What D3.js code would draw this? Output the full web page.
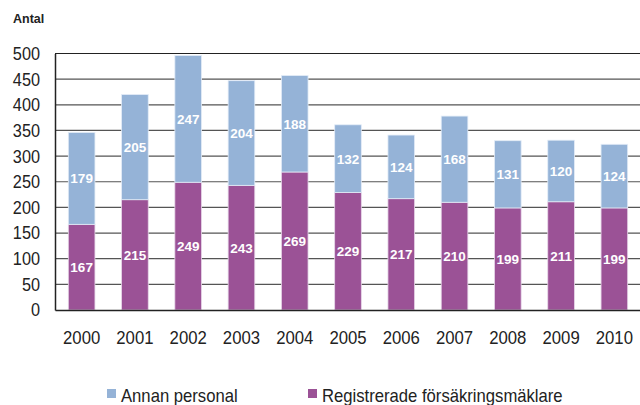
<!DOCTYPE html>
<html><head><meta charset="utf-8">
<script src="https://cdn.jsdelivr.net/npm/d3@7"></script>
<style>body{margin:0;background:#fff}svg{display:block}</style>
</head><body>
<svg id="c" width="640" height="405"></svg>
<script>
const years = ["2000","2001","2002","2003","2004","2005","2006","2007","2008","2009","2010"];
const registrerade = [167,215,249,243,269,229,217,210,199,211,199];
const annan = [179,205,247,204,188,132,124,168,131,120,124];
const yTicks = [0,50,100,150,200,250,300,350,400,450,500];
const seriesNames = ["Annan personal","Registrerade försäkringsmäklare"];
const colors = {annan:"#95b3d7", reg:"#9b5296"};
const FONT = "'Liberation Sans', Arial, sans-serif";

const svg = d3.select("#c");
const m = {l:55};
const x = d3.scaleBand().domain(years).range([m.l, 641]).paddingInner(0.5).paddingOuter(0.25);
const y = d3.scaleLinear().domain([0,500]).range([310, 53.5]);

function squeeze(sel, f){
  sel.each(function(){
    const w = this.getComputedTextLength();
    d3.select(this).attr("textLength", w*f).attr("lengthAdjust","spacingAndGlyphs");
  });
}

// gridlines
svg.append("g").selectAll("line").data(yTicks.filter(d=>d>0)).join("line")
  .attr("x1", m.l).attr("x2", 640).attr("y1", d=>y(d)).attr("y2", d=>y(d))
  .attr("stroke", d=>d===500?"#222":"#555").attr("stroke-width",1.2);

const data = years.map((yr,i)=>({yr, reg:registrerade[i], an:annan[i]}));
const bw = x.bandwidth();
const g = svg.append("g");
g.selectAll("rect.reg").data(data).join("rect").attr("class","reg")
  .attr("x", d=>x(d.yr)).attr("width", bw)
  .attr("y", d=>y(d.reg)).attr("height", d=>y(0)-y(d.reg))
  .attr("fill", colors.reg).attr("stroke","#e6d6e8").attr("stroke-width",0.8);
g.selectAll("rect.an").data(data).join("rect").attr("class","an")
  .attr("x", d=>x(d.yr)).attr("width", bw)
  .attr("y", d=>y(d.reg+d.an)).attr("height", d=>y(d.reg)-y(d.reg+d.an))
  .attr("fill", colors.annan).attr("stroke","#e3ecf7").attr("stroke-width",0.8);

// value labels
const lab = svg.append("g").attr("font-family",FONT)
  .attr("font-weight","bold").attr("font-size",13.5).attr("fill","#fff").attr("text-anchor","middle");
lab.selectAll("text.r").data(data).join("text")
  .attr("x", d=>x(d.yr)+bw/2).attr("y", d=>y(d.reg/2)+5).text(d=>d.reg);
lab.selectAll("text.a").data(data).join("text")
  .attr("x", d=>x(d.yr)+bw/2).attr("y", d=>y(d.reg+d.an/2)+5).text(d=>d.an);

// axes
const yAxis = d3.axisLeft(y).tickValues(yTicks).tickSize(0).tickPadding(15);
const ya = svg.append("g").attr("transform",`translate(${m.l},0)`).call(yAxis);
ya.select(".domain").attr("stroke","#222").attr("stroke-width",1.5);
ya.selectAll("text").attr("font-family",FONT).attr("font-size",18.5).attr("fill","#222");
squeeze(ya.selectAll("text"), 0.88);

const xAxis = d3.axisBottom(x).tickSize(0).tickPadding(21);
const xa = svg.append("g").attr("transform",`translate(0,${y(0)})`).call(xAxis);
xa.select(".domain").attr("stroke","#222").attr("stroke-width",1.5);
xa.selectAll("text").attr("font-family",FONT).attr("font-size",19).attr("fill","#222");
squeeze(xa.selectAll("text"), 0.88);

svg.append("text").attr("x",13).attr("y",23).text("Antal")
  .attr("font-family",FONT).attr("font-weight","bold").attr("font-size",12.5).attr("fill","#222");

// legend
const leg = svg.append("g").attr("font-family",FONT).attr("font-size",18.5).attr("fill","#222");
const legItems = [{n:seriesNames[0], c:colors.annan, x:107},{n:seriesNames[1], c:colors.reg, x:308}];
legItems.forEach(it=>{
  leg.append("rect").attr("x",it.x).attr("y",389).attr("width",9).attr("height",9).attr("fill",it.c);
  const t = leg.append("text").attr("x",it.x+14).attr("y",402).text(it.n);
  squeeze(t, 0.9);
});
</script>
</body></html>
